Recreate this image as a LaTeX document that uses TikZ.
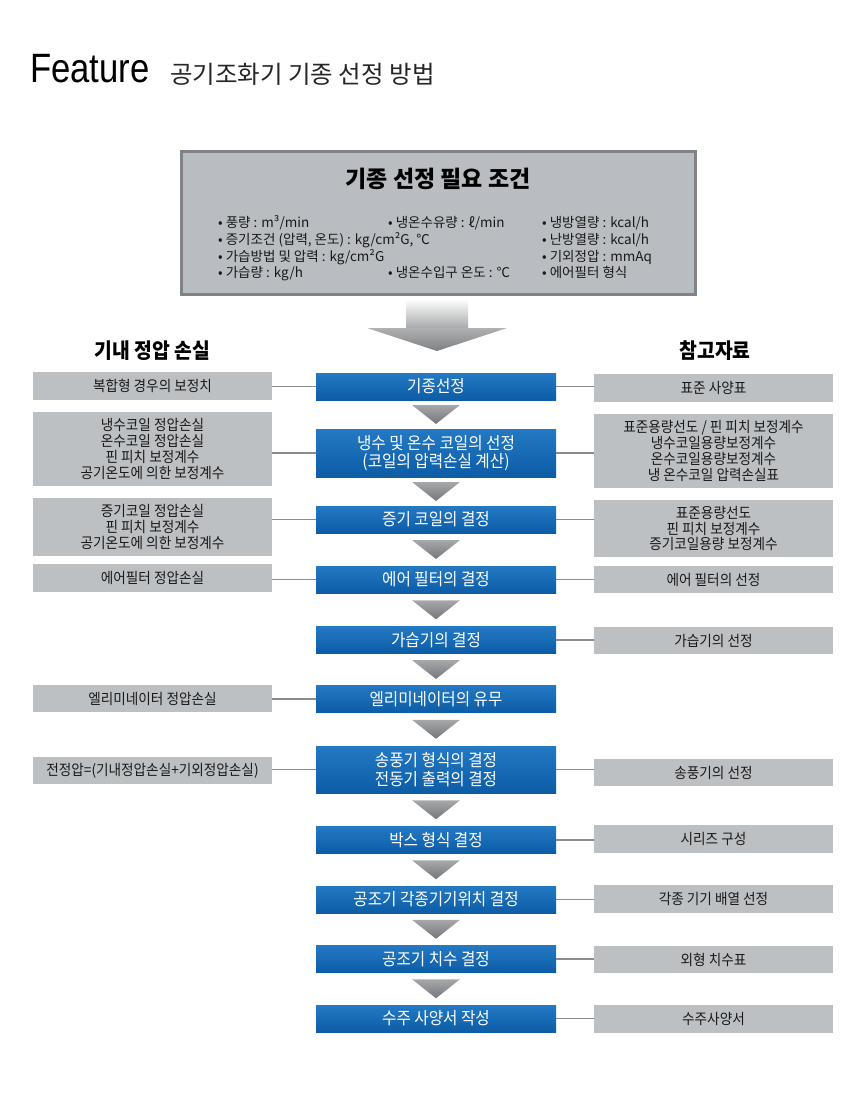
\documentclass[tikz,border=0pt]{standalone}
\usepackage{fontspec}
\usepackage{tikz}
\usetikzlibrary{calc}
\setmainfont{Noto Sans CJK KR}
\newfontfamily\krfont[FakeStretch=0.92]{Noto Sans CJK KR}
\newfontfamily\featfont[FakeStretch=0.845]{Liberation Sans}
\definecolor{selbluetop}{HTML}{2479C3}
\definecolor{selbluebot}{HTML}{0C5CA6}
\definecolor{selgray}{HTML}{BDC0C3}
\definecolor{selcond}{HTML}{B9BDC1}
\definecolor{selframe}{HTML}{7F8286}
\definecolor{selline}{HTML}{8A8C8E}
\definecolor{seltritop}{HTML}{A6A8AA}
\definecolor{seltribot}{HTML}{74767A}
\newcommand{\flowtri}[2]{%
  \shade[flowtri] ($(#1.south)!0.5!(#2.north)+(-24,-9.5)$)
    -- ($(#1.south)!0.5!(#2.north)+(24,-9.5)$)
    -- ($(#1.south)!0.5!(#2.north)+(0,9.5)$) -- cycle;}

\begin{document}
\begin{tikzpicture}[
  x=1pt, y=-1pt,
  flowbox/.style={top color=selbluetop, bottom color=selbluebot, text=white, align=center,
                  minimum width=240pt, minimum height=27pt, inner sep=0pt,
                  font=\krfont\fontsize{17}{18.5}\selectfont},
  refbox/.style={fill=selgray, text=black!90, align=center, minimum width=239pt,
                 minimum height=27pt, inner sep=0pt, font=\krfont\fontsize{14.8}{15.9}\selectfont},
  condtext/.style={anchor=base west, inner sep=0pt, text=black!90,
                   font=\fontsize{13.5}{15}\selectfont},
  headtext/.style={inner sep=0pt, font=\krfont\bfseries\fontsize{21}{23}\selectfont},
  linkline/.style={draw=selline, line width=1.3pt},
  flowtri/.style={top color=seltritop, bottom color=seltribot, draw=none}
]
\useasboundingbox[fill=white] (0,0) rectangle (859,1100);

\node[anchor=base west, inner sep=0pt, font=\featfont\fontsize{41}{42}\selectfont] (feat) at (30,82) {Feature};
\node[anchor=base west, inner sep=0pt, text=black!85, font=\fontsize{24.5}{26}\selectfont] (subtitle) at (170,83)
  {공기조화기 기종 선정 방법};

\node[draw=selframe, line width=3pt, fill=selcond, minimum width=514pt, minimum height=143pt] (cond) at (438.5,223) {};
\node[inner sep=0pt, font=\bfseries\fontsize{23}{25}\selectfont] (condhead) at (438,179) {기종 선정 필요 조건};
\node[condtext] (c11) at (218,227) {• 풍량 : m³/min};
\node[condtext] (c12) at (218,244) {• 증기조건 (압력, 온도) : kg/cm²G, ℃};
\node[condtext] (c13) at (218,261) {• 가습방법 및 압력 : kg/cm²G};
\node[condtext] (c14) at (218,277.5) {• 가습량 : kg/h};
\node[condtext] (c21) at (388,227) {• 냉온수유량 : ℓ/min};
\node[condtext] (c24) at (388,277.5) {• 냉온수입구 온도 : ℃};
\node[condtext] (c31) at (542,227) {• 냉방열량 : kcal/h};
\node[condtext] (c32) at (542,244) {• 난방열량 : kcal/h};
\node[condtext] (c33) at (542,261) {• 기외정압 : mmAq};
\node[condtext] (c34) at (542,277.5) {• 에어필터 형식};

\shade[top color=white, bottom color=seltritop] (406,299) rectangle (468,328.5);
\shade[top color=seltritop!90!white, bottom color=seltribot!80!seltritop] (367,328) -- (507,328) -- (437,351) -- cycle;

\node[headtext] (losshead) at (152.5,350.5) {기내 정압 손실};
\node[headtext] (refhead) at (715,351) {참고자료};

\node[flowbox] (f1) at (436,386.5) {기종선정};
\node[flowbox, minimum height=48pt] (f2) at (436,453) {냉수 및 온수 코일의 선정\\(코일의 압력손실 계산)};
\node[flowbox] (f3) at (436,519.5) {증기 코일의 결정};
\node[flowbox] (f4) at (436,579.5) {에어 필터의 결정};
\node[flowbox] (f5) at (436,640) {가습기의 결정};
\node[flowbox] (f6) at (436,699) {엘리미네이터의 유무};
\node[flowbox, minimum height=47pt] (f7) at (436,769.5) {송풍기 형식의 결정\\전동기 출력의 결정};
\node[flowbox] (f8) at (436,840) {박스 형식 결정};
\node[flowbox] (f9) at (436,899.5) {공조기 각종기기위치 결정};
\node[flowbox] (f10) at (436,959) {공조기 치수 결정};
\node[flowbox] (f11) at (436,1018.5) {수주 사양서 작성};

\node[refbox, minimum height=28pt] (l1) at (152.5,386) {복합형 경우의 보정치};
\node[refbox, minimum height=74pt] (l2) at (152.5,449)
  {냉수코일 정압손실\\온수코일 정압손실\\핀 피치 보정계수\\공기온도에 의한 보정계수};
\node[refbox, minimum height=58pt] (l3) at (152.5,527)
  {증기코일 정압손실\\핀 피치 보정계수\\공기온도에 의한 보정계수};
\node[refbox, minimum height=28pt] (l4) at (152.5,578) {에어필터 정압손실};
\node[refbox] (l6) at (152.5,698.5) {엘리미네이터 정압손실};
\node[refbox] (l7) at (152.5,770.5) {전정압=(기내정압손실+기외정압손실)};

\node[refbox, minimum height=28pt] (r1) at (713.5,388) {표준 사양표};
\node[refbox, minimum height=74pt] (r2) at (713.5,451)
  {표준용량선도 / 핀 피치 보정계수\\냉수코일용량보정계수\\온수코일용량보정계수\\냉 온수코일 압력손실표};
\node[refbox, minimum height=57pt] (r3) at (713.5,528.5)
  {표준용량선도\\핀 피치 보정계수\\증기코일용량 보정계수};
\node[refbox] (r4) at (713.5,579.5) {에어 필터의 선정};
\node[refbox] (r5) at (713.5,640.5) {가습기의 선정};
\node[refbox] (r7) at (713.5,772.5) {송풍기의 선정};
\node[refbox, minimum height=28pt] (r8) at (713.5,839) {시리즈 구성};
\node[refbox, minimum height=28pt] (r9) at (713.5,899) {각종 기기 배열 선정};
\node[refbox] (r10) at (713.5,959.5) {외형 치수표};
\node[refbox, minimum height=28pt] (r11) at (713.5,1019) {수주사양서};

\draw[linkline] (f1.west -| l1.east) -- (f1.west);
\draw[linkline] (f2.west -| l2.east) -- (f2.west);
\draw[linkline] (f3.west -| l3.east) -- (f3.west);
\draw[linkline] (f4.west -| l4.east) -- (f4.west);
\draw[linkline] (f6.west -| l6.east) -- (f6.west);
\draw[linkline] (f7.west -| l7.east) -- (f7.west);
\draw[linkline] (f1.east) -- (f1.east -| r1.west);
\draw[linkline] (f2.east) -- (f2.east -| r2.west);
\draw[linkline] (f3.east) -- (f3.east -| r3.west);
\draw[linkline] (f4.east) -- (f4.east -| r4.west);
\draw[linkline] (f5.east) -- (f5.east -| r5.west);
\draw[linkline] (f7.east) -- (f7.east -| r7.west);
\draw[linkline] (f8.east) -- (f8.east -| r8.west);
\draw[linkline] (f9.east) -- (f9.east -| r9.west);
\draw[linkline] (f10.east) -- (f10.east -| r10.west);
\draw[linkline] (f11.east) -- (f11.east -| r11.west);

\flowtri{f1}{f2}
\flowtri{f2}{f3}
\flowtri{f3}{f4}
\flowtri{f4}{f5}
\flowtri{f5}{f6}
\flowtri{f6}{f7}
\flowtri{f7}{f8}
\flowtri{f8}{f9}
\flowtri{f9}{f10}
\flowtri{f10}{f11}
\end{tikzpicture}
\end{document}
